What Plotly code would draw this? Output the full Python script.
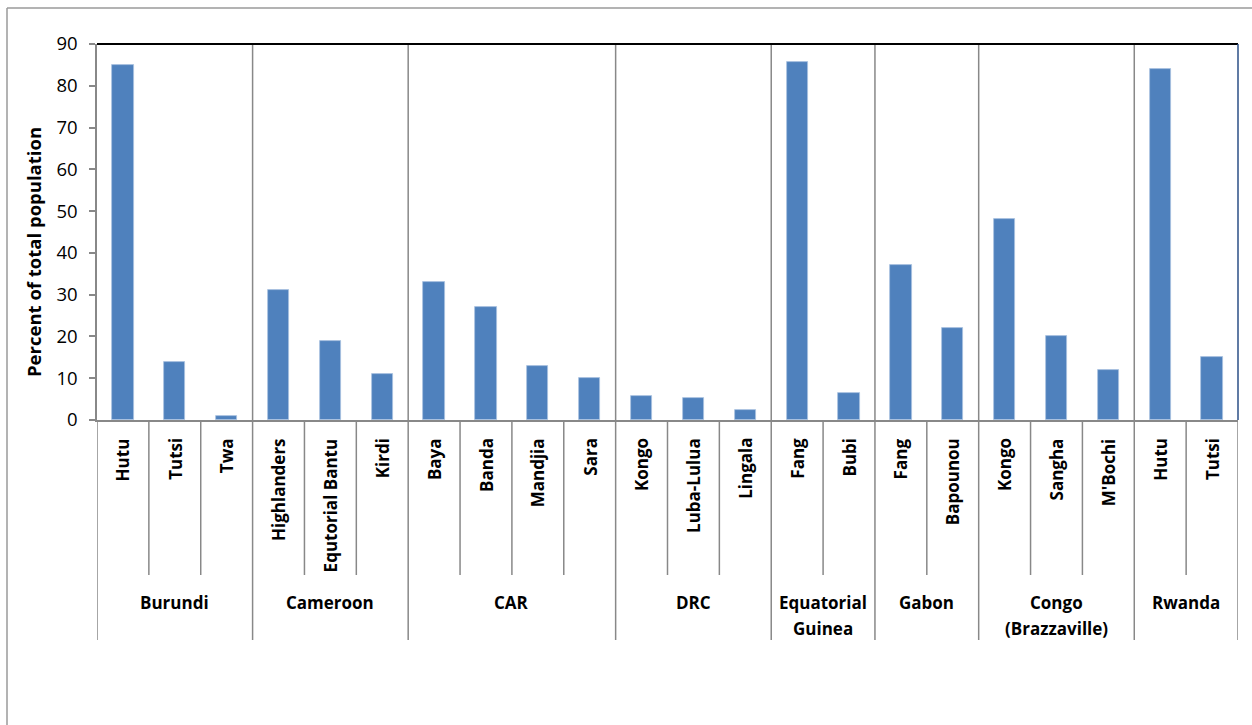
import plotly.graph_objects as go

# Countries (a "\n" splits a name over two lines) and their ethnic groups
countries = ["Burundi", "Cameroon", "CAR", "DRC", "Equatorial\nGuinea",
             "Gabon", "Congo\n(Brazzaville)", "Rwanda"]
groups = [
    ["Hutu", "Tutsi", "Twa"],
    ["Highlanders", "Equtorial Bantu", "Kirdi"],
    ["Baya", "Banda", "Mandjia", "Sara"],
    ["Kongo", "Luba-Lulua", "Lingala"],
    ["Fang", "Bubi"],
    ["Fang", "Bapounou"],
    ["Kongo", "Sangha", "M'Bochi"],
    ["Hutu", "Tutsi"],
]
# Percent of total population for each group
shares = [
    [85, 14, 1],
    [31, 19, 11],
    [33, 27, 13, 10],
    [5.8, 5.2, 2.3],
    [85.7, 6.5],
    [37, 22],
    [48, 20, 12],
    [84, 15],
]
y_ticks = [0, 10, 20, 30, 40, 50, 60, 70, 80, 90]
y_title = "Percent of total population"

# Figure geometry (pixels)
W, H = 1252, 725
L, R, T, B = 97, 14, 44, 305
plot_w = W - L - R
plot_h = H - T - B


def xp(px):
    return (px - L) / plot_w


def yp(py):
    return (H - B - py) / plot_h


labels, values, pos = [], [], []
bounds = [-0.5]
centers = []
i = 0
for g, v in zip(groups, shares):
    start = i
    for name, val in zip(g, v):
        labels.append(name)
        values.append(val)
        pos.append(i)
        i += 1
    centers.append((start + i - 1) / 2)
    bounds.append(i - 0.5)
n = len(labels)

FONT = "Open Sans"
GRAY = "#888888"

fig = go.Figure(go.Bar(
    x=pos, y=values, width=0.41,
    marker=dict(color="#4F81BD", line=dict(color="#a9c1e0", width=0.8)),
    hovertext=labels, showlegend=False,
))

shapes = []
group_edges = set(bounds)
# vertical separators between categories below the axis
for k in range(n + 1):
    xb = k - 0.5
    y1 = yp(640) if xb in group_edges else yp(575)
    shapes.append(dict(type="line", xref="x", yref="paper", x0=xb, x1=xb,
                       y0=0, y1=y1, line=dict(color=GRAY, width=1.5)))
# country separators inside the plot area
for xb in bounds[1:-1]:
    shapes.append(dict(type="line", xref="x", yref="paper", x0=xb, x1=xb,
                       y0=0, y1=1, line=dict(color=GRAY, width=1.5)))
# plot-area top and right borders
shapes.append(dict(type="line", xref="paper", yref="paper", x0=0, x1=1,
                   y0=1, y1=1, line=dict(color="#000000", width=2)))
shapes.append(dict(type="line", xref="paper", yref="paper", x0=1, x1=1,
                   y0=0, y1=1, line=dict(color="#2b4f86", width=1.5)))
# outer chart frame
shapes.append(dict(type="line", xref="paper", yref="paper", x0=xp(7), x1=xp(W + 5),
                   y0=yp(8), y1=yp(8), line=dict(color="#9a9a9a", width=1.5)))
shapes.append(dict(type="line", xref="paper", yref="paper", x0=xp(7), x1=xp(7),
                   y0=yp(8), y1=yp(H + 5), line=dict(color="#9a9a9a", width=1.5)))

annotations = []
for p, name in zip(pos, labels):
    annotations.append(dict(
        x=p, xref="x", y=yp(436), yref="paper", text=name, textangle=-90,
        xanchor="center", yanchor="top", showarrow=False,
        font=dict(family=FONT, size=17, color="#000000", weight="bold"),
    ))
for c, cname in zip(centers, countries):
    for li, line in enumerate(cname.split("\n")):
        annotations.append(dict(
            x=c, xref="x", y=yp(602 + 26 * li), yref="paper", text=line,
            xanchor="center", yanchor="middle", showarrow=False,
            font=dict(family=FONT, size=17, color="#000000", weight="bold"),
        ))
annotations.append(dict(
    x=xp(33), xref="paper", y=yp(252), yref="paper", text=y_title,
    textangle=-90, xanchor="center", yanchor="middle", showarrow=False,
    font=dict(family=FONT, size=18.5, color="#000000", weight="bold"),
))

fig.update_layout(
    width=W, height=H,
    margin=dict(l=L, r=R, t=T, b=B, pad=0),
    paper_bgcolor="white", plot_bgcolor="white",
    bargap=0,
    xaxis=dict(range=[-0.5, n - 0.5], showticklabels=False, ticks="",
               showgrid=False, zeroline=False, showline=True,
               linecolor=GRAY, linewidth=2, fixedrange=True),
    yaxis=dict(range=[0, 90], tickvals=y_ticks, showgrid=False, zeroline=False,
               showline=True, linecolor=GRAY, linewidth=1.5,
               ticks="outside", ticklen=6, tickcolor=GRAY, tickwidth=1.5,
               ticklabelstandoff=8,
               tickfont=dict(family=FONT, size=18.5, color="#000000")),
    shapes=shapes,
    annotations=annotations,
)

fig.write_html("out.html")
